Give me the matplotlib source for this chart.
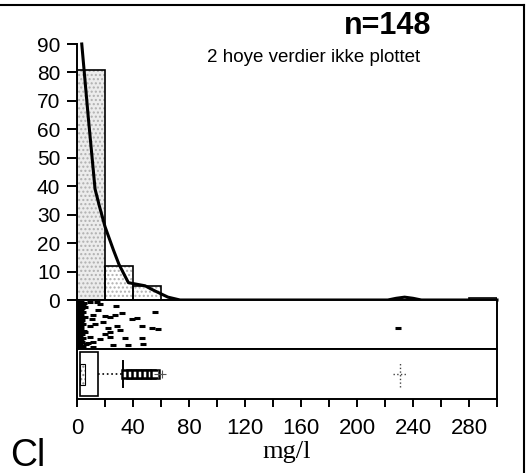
import matplotlib
matplotlib.use('Agg')
import matplotlib.pyplot as plt
from matplotlib.patches import Rectangle
from matplotlib.lines import Line2D

# ---------------- data ----------------
bin_edges = [0, 20, 40, 60, 80, 100, 120, 140, 160, 180, 200, 220, 240, 260, 280, 300]
bin_pct = [81, 12, 5, 0, 0, 0, 0, 0, 0, 0, 0, 0.5, 0, 0, 0.8]

curve_x = [3.4, 8, 12.9, 16, 20, 26, 30, 36.7, 42, 48.6, 54, 59, 65, 73.6,
           100, 150, 200, 222, 228, 234, 240, 246, 260, 300]
curve_y = [90, 64.5, 39, 33, 25.8, 17.6, 12.5, 6.1, 5.6, 5.0, 3.6, 2.4, 1.0, 0,
           0, 0, 0, 0, 0.6, 1.0, 0.6, 0, 0, 0]

strip_x = [0.5, 1.5, 3.0, 5.0, 1.0, 2.5, 4.0, 0.7, 2.0, 3.5, 6.0, 1.2, 3.0, 0.5,
           2.2, 4.5, 1.0, 3.2, 0.6, 2.0, 5.5, 1.4, 3.8, 0.8, 2.6, 1.0, 4.2, 0.5,
           2.0, 3.2, 1.2, 0.6, 2.8, 5.0, 1.5, 0.7, 3.5, 2.0, 0.5, 4.0, 1.3, 2.6,
           0.6, 3.6, 1.8, 0.8, 2.8, 1.2, 4.4, 6.5, 9.0, 14.0,
           16.4, 28.0, 15.2, 11.7, 10.5, 20.0, 23.6, 27.0, 32.0, 39.0, 42.6, 55.7,
           18.8, 12.9, 9.3, 22.4, 28.3, 30.7, 46.2, 53.4, 58.0, 20.0, 23.6, 23.6,
           34.3, 46.2, 9.3, 16.4, 11.7, 8.1, 26.0, 36.7, 47.4, 11.7, 6.0,
           229.5]
strip_y = [0.95, 0.93, 0.95, 0.94, 0.90, 0.88, 0.89, 0.85, 0.83, 0.84, 0.86, 0.80, 0.78, 0.76,
           0.74, 0.75, 0.71, 0.70, 0.66, 0.64, 0.65, 0.61, 0.60, 0.57, 0.55, 0.52, 0.51, 0.48,
           0.46, 0.44, 0.42, 0.39, 0.38, 0.37, 0.34, 0.31, 0.30, 0.27, 0.24, 0.23, 0.20, 0.18,
           0.15, 0.14, 0.11, 0.08, 0.07, 0.04, 0.05, 0.10, 0.95, 0.96,
           0.91, 0.88, 0.80, 0.69, 0.61, 0.68, 0.66, 0.69, 0.73, 0.61, 0.63, 0.75,
           0.56, 0.52, 0.46, 0.42, 0.46, 0.39, 0.46, 0.42, 0.40, 0.30, 0.34, 0.25,
           0.22, 0.22, 0.25, 0.20, 0.15, 0.12, 0.08, 0.08, 0.10, 0.05, 0.35,
           0.43]

box_q1 = 2
box_q3 = 15
box_inner_lo = 2.2
box_inner_hi = 5.5
whisker_hi = 33
near_outliers = [35, 38.5, 42, 45.5, 49, 52.5, 55.5]
faint_outliers = [58, 61]
far_outlier = 230.5

x_ticks = list(range(0, 301, 20))
x_labels = ['0', '', '40', '', '80', '', '120', '', '160', '', '200', '', '240', '', '280', '']
y_ticks = list(range(0, 91, 10))

# ---------------- figure ----------------
plt.rcParams['font.family'] = ['Liberation Sans', 'DejaVu Sans']
W, H = 526, 473
fig = plt.figure(figsize=(W / 100, H / 100), dpi=100)

def fr(x0, y_top, x1, y_bot):
    return [x0 / W, 1 - y_bot / H, (x1 - x0) / W, (y_bot - y_top) / H]

LW = 1.4
ax_h = fig.add_axes(fr(77, 44, 497, 300))
ax_s = fig.add_axes(fr(77, 300, 497, 349))
ax_b = fig.add_axes(fr(77, 349, 497, 399))

# histogram
widths = [bin_edges[i + 1] - bin_edges[i] for i in range(len(bin_pct))]
lefts = bin_edges[:-1]
shade = ['#ececec' if i in (0, 14) else 'white' for i in range(len(bin_pct))]
ax_h.bar(lefts, bin_pct, width=widths, align='edge', color=shade,
         edgecolor='#b0b0b0', hatch='....', linewidth=0)
ax_h.bar(lefts[:3], bin_pct[:3], width=widths[:3], align='edge', color='none',
         edgecolor='black', linewidth=1.2)
ax_h.bar(lefts[14:], bin_pct[14:], width=widths[14:], align='edge', color='none',
         edgecolor='black', linewidth=1.2)
ax_h.plot(curve_x, curve_y, color='black', lw=2.2, clip_on=False, zorder=5)
ax_h.set_xlim(0, 300)
ax_h.set_ylim(0, 90)
ax_h.set_yticks(y_ticks)
ax_h.set_xticks([])
for s in ('top', 'right'):
    ax_h.spines[s].set_visible(False)
for s in ('left', 'bottom'):
    ax_h.spines[s].set_linewidth(LW)
ax_h.tick_params(axis='y', direction='out', length=7, width=LW, pad=5, labelsize=15)

# strip
ax_s.plot(strip_x, strip_y, linestyle='none', marker='_', markersize=5,
          markeredgewidth=2.2, color='black')
ax_s.set_xlim(0, 300)
ax_s.set_ylim(0, 1)
ax_s.set_xticks([])
ax_s.set_yticks([])
for s in ax_s.spines.values():
    s.set_linewidth(LW)

# box plot
ax_b.set_xlim(0, 300)
ax_b.set_ylim(0, 1)
ax_b.add_patch(Rectangle((box_q1, 0.06), box_q3 - box_q1, 0.88, facecolor='white',
                         edgecolor='black', lw=1.2, zorder=2))
ax_b.add_patch(Rectangle((box_inner_lo, 0.28), box_inner_hi - box_inner_lo, 0.42,
                         facecolor='white', edgecolor='#888888', hatch='....', lw=0, zorder=3))
ax_b.add_patch(Rectangle((box_inner_lo, 0.28), box_inner_hi - box_inner_lo, 0.42,
                         facecolor='none', edgecolor='black', lw=0.8, zorder=3))
ax_b.plot([box_q3, whisker_hi], [0.5, 0.5], color='black', lw=1.2, ls=':', zorder=2)
ax_b.plot([whisker_hi, whisker_hi], [0.24, 0.76], color='black', lw=1.4, zorder=2)
ax_b.plot(near_outliers, [0.5] * len(near_outliers), linestyle='none', marker='s',
          markersize=6, markerfacecolor='white', markeredgecolor='black',
          markeredgewidth=1.8, zorder=4)
ax_b.plot(faint_outliers, [0.5] * len(faint_outliers), linestyle='none', marker='+',
          markersize=6, color='#555555', markeredgewidth=0.8, zorder=4)
ax_b.plot([far_outlier - 5, far_outlier + 5], [0.5, 0.5], color='#444444', lw=1, ls=':')
ax_b.plot([far_outlier, far_outlier], [0.25, 0.75], color='#444444', lw=1, ls=':')
for s in ax_b.spines.values():
    s.set_linewidth(LW)
ax_b.set_yticks([])
ax_b.set_xticks(x_ticks)
ax_b.set_xticklabels(x_labels)
ax_b.tick_params(axis='x', direction='out', length=6, width=LW, pad=8, labelsize=16)
ax_b.set_xlabel('mg/l', family=['Liberation Serif', 'DejaVu Serif'], fontsize=19,
                labelpad=1)

# texts
fig.text(388 / W, 1 - 26 / H, 'n=148', fontsize=22, fontweight='bold',
         ha='center', va='center')
fig.text(314 / W, 1 - 57 / H, '2 hoye verdier ikke plottet', fontsize=13.5,
         ha='center', va='center')
fig.text(10 / W, 1 - 466 / H, 'Cl', fontsize=27, ha='left', va='baseline')

# outer frame
fig.add_artist(Line2D([0, 524 / W], [1 - 5 / H, 1 - 5 / H], transform=fig.transFigure,
                      color='black', lw=1.5))
fig.add_artist(Line2D([524 / W, 524 / W], [1 - 5 / H, 0], transform=fig.transFigure,
                      color='black', lw=1.5))

fig.savefig('out.png', dpi=100)
